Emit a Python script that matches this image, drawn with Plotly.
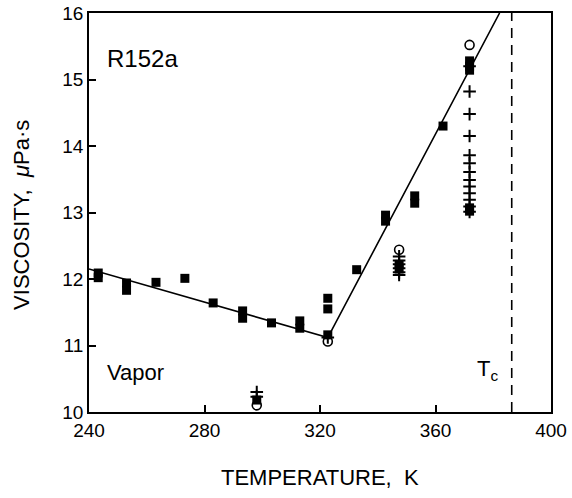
import plotly.graph_objects as go

# Measured vapor viscosity (filled squares)
sq_T = [243.2, 243.2, 253.0, 253.0, 263.2, 273.2, 283.0, 293.2, 293.2, 303.2,
        313.0, 313.0, 322.7, 322.7, 322.7, 332.7, 342.7, 342.7, 352.8, 352.8,
        362.6, 371.8, 371.8, 371.8, 371.8, 371.8, 347.4, 347.4, 298.1]
sq_V = [12.09, 12.02, 11.94, 11.83, 11.95, 12.01, 11.64, 11.52, 11.41, 11.34,
        11.37, 11.26, 11.71, 11.55, 11.16, 12.14, 12.96, 12.87, 13.25, 13.14,
        14.30, 15.28, 15.20, 15.14, 13.07, 13.02, 12.22, 12.15, 10.18]

# Open circles
circ_T = [298.1, 322.7, 347.4, 371.8]
circ_V = [10.10, 11.06, 12.44, 15.52]

# Crosses
cross_T = [298.1, 298.1, 322.7,
           347.4, 347.4, 347.4, 347.4, 347.4, 347.4,
           371.8, 371.8, 371.8, 371.8, 371.8, 371.8, 371.8, 371.8, 371.8,
           371.8, 371.8, 371.8, 371.8]
cross_V = [10.30, 10.23, 11.12,
           12.34, 12.28, 12.22, 12.16, 12.10, 12.06,
           15.20, 14.82, 14.48, 14.15, 13.86, 13.74, 13.61, 13.49, 13.39,
           13.29, 13.19, 13.09, 13.01]

# Correlation lines
fit_T = [240.0, 322.7, 382.2]
fit_V = [12.15, 11.12, 16.0]

# Critical temperature
Tc = 386.4

x_ticks = [240, 280, 320, 360, 400]
y_ticks = [10, 11, 12, 13, 14, 15, 16]

FONT = "Arial"

fig = go.Figure()
fig.add_trace(go.Scatter(x=fit_T, y=fit_V, mode="lines",
                         line=dict(color="black", width=1.6), hoverinfo="skip"))
fig.add_trace(go.Scatter(x=[Tc, Tc], y=[10, 16], mode="lines",
                         line=dict(color="black", width=1.6, dash="10px,7px")))
fig.add_trace(go.Scatter(x=sq_T, y=sq_V, mode="markers",
                         marker=dict(symbol="square", size=9, color="black")))
fig.add_trace(go.Scatter(x=cross_T, y=cross_V, mode="markers",
                         marker=dict(symbol="cross-thin", size=9,
                                     line=dict(color="black", width=2))))
fig.add_trace(go.Scatter(x=circ_T, y=circ_V, mode="markers",
                         marker=dict(symbol="circle-open", size=9, color="black",
                                     line=dict(color="black", width=1.6))))

fig.update_layout(
    width=572, height=498,
    margin=dict(l=89, r=21, t=13, b=86),
    plot_bgcolor="white", paper_bgcolor="white",
    showlegend=False,
    font=dict(family=FONT, color="black", size=18),
)
fig.update_xaxes(range=[240, 400], tickvals=x_ticks, ticktext=[str(v) for v in x_ticks],
                 ticks="inside", ticklen=7, tickwidth=1.5, tickcolor="black",
                 showline=True, linecolor="black", linewidth=1.8, mirror=True,
                 showgrid=False, zeroline=False, automargin=False,
                 tickfont=dict(size=19, family=FONT))
fig.update_yaxes(range=[10, 16], tickvals=y_ticks, ticktext=[str(v) for v in y_ticks],
                 ticks="inside", ticklen=7, tickwidth=1.5, tickcolor="black",
                 showline=True, linecolor="black", linewidth=1.8, mirror=True,
                 showgrid=False, zeroline=False, automargin=False,
                 tickfont=dict(size=19, family=FONT))

# Axis titles
fig.add_annotation(xref="paper", yref="paper", x=0.5, y=-0.163,
                   text="TEMPERATURE,  K", showarrow=False,
                   xanchor="center", yanchor="middle", font=dict(size=22, family=FONT))
fig.add_annotation(xref="paper", yref="paper", x=-0.145, y=0.494,
                   text="VISCOSITY,  <i>μ</i>Pa·s", showarrow=False, textangle=-90,
                   xanchor="center", yanchor="middle", font=dict(size=22, family=FONT))

fig.add_annotation(x=245.5, y=15.32, text="R152a", showarrow=False, xanchor="left",
                   font=dict(size=24, family=FONT))
fig.add_annotation(x=245.5, y=10.6, text="Vapor", showarrow=False, xanchor="left",
                   font=dict(size=22, family=FONT))
fig.add_annotation(x=373.6, y=10.63, text="T<sub>c</sub>", showarrow=False, xanchor="left",
                   font=dict(size=22, family=FONT))

fig.write_html("out.html", config={"displayModeBar": False},
               post_script="document.body.style.margin='0';document.body.style.overflow='hidden';")
